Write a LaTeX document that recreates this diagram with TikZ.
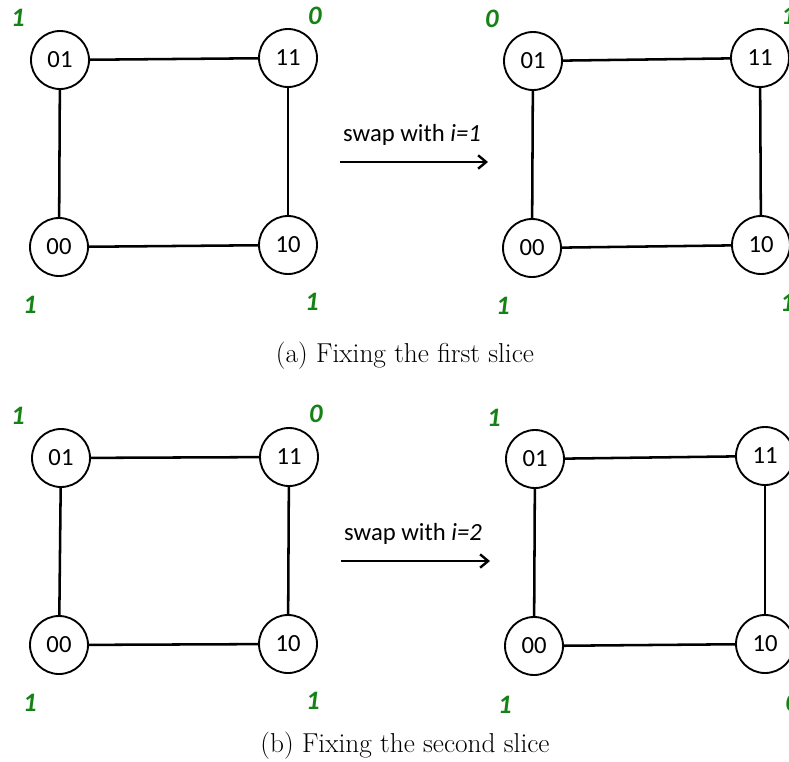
\documentclass[tikz,border=0pt]{standalone}
\usepackage{fontspec}
\newfontfamily\calibri{Carlito}
\usetikzlibrary{arrows.meta}
\definecolor{bitgreen}{RGB}{20,130,20}
\tikzset{
  vertex/.style={circle,draw,line width=1.4pt,minimum size=43.5pt,inner sep=0pt,
    font=\calibri\fontsize{18.5}{20}\selectfont},
  edge/.style={line width=1.9pt},
  bit/.style={text=bitgreen,font=\calibri\bfseries\itshape\fontsize{20}{22}\selectfont},
  swaparrow/.style={line width=1.9pt,-{Straight Barb[length=6pt,width=10pt,line width=1.8pt]}},
  swaplabel/.style={font=\calibri\fontsize{18.5}{20}\selectfont},
  caption/.style={font=\fontsize{20.5}{24}\selectfont}
}
\begin{document}
\begin{tikzpicture}[x=0.75pt,y=-0.75pt]
\useasboundingbox (0,0) rectangle (789,761);
\clip (0,0) rectangle (789,761);

% ---- (a) first slice, before the swap
\node[vertex] (a01) at (60,60) {01};
\node[vertex] (a11) at (288,58) {11};
\node[vertex] (a00) at (59,247) {00};
\node[vertex] (a10) at (288,245) {10};
\draw[edge] (a01) -- (a11);
\draw[edge] (a01) -- (a00);
\draw[edge] (a11) -- (a10);
\draw[edge] (a00) -- (a10);
\node[bit] (ab01) at (18,18) {1};
\node[bit] (ab11) at (315,16) {0};
\node[bit] (ab00) at (30,305) {1};
\node[bit] (ab10) at (312,302) {1};

% swap arrow
\coordinate (asrc) at (340,162);
\coordinate (adst) at (488,162);
\draw[swaparrow] (asrc) -- (adst);
\node[swaplabel] (alab) at (412,135) {swap with \textit{i=1}};

% ---- (a) first slice, after the swap
\node[vertex] (b01) at (533,61) {01};
\node[vertex] (b11) at (760,58) {11};
\node[vertex] (b00) at (532,248) {00};
\node[vertex] (b10) at (761,245) {10};
\draw[edge] (b01) -- (b11);
\draw[edge] (b01) -- (b00);
\draw[edge] (b11) -- (b10);
\draw[edge] (b00) -- (b10);
\node[bit] (bb01) at (492,19) {0};
\node[bit] (bb11) at (788,16) {1};
\node[bit] (bb00) at (503,306) {1};
\node[bit] (bb10) at (787,303) {1};

\node[caption] (capa) at (405,356) {(a) Fixing the first slice};

% ---- (b) second slice, before the swap
\node[vertex] (c01) at (61,458) {01};
\node[vertex] (c11) at (289,457) {11};
\node[vertex] (c00) at (59,645) {00};
\node[vertex] (c10) at (288,644) {10};
\draw[edge] (c01) -- (c11);
\draw[edge] (c01) -- (c00);
\draw[edge] (c11) -- (c10);
\draw[edge] (c00) -- (c10);
\node[bit] (cb01) at (18,416) {1};
\node[bit] (cb11) at (316,414) {0};
\node[bit] (cb00) at (30,703) {1};
\node[bit] (cb10) at (313,701) {1};

% swap arrow
\coordinate (csrc) at (341,561);
\coordinate (cdst) at (490,561);
\draw[swaparrow] (csrc) -- (cdst);
\node[swaplabel] (clab) at (413,534) {swap with \textit{i=2}};

% ---- (b) second slice, after the swap
\node[vertex] (d01) at (535,459) {01};
\node[vertex] (d11) at (765,456) {11};
\node[vertex] (d00) at (534,646) {00};
\node[vertex] (d10) at (765,644) {10};
\draw[edge] (d01) -- (d11);
\draw[edge] (d01) -- (d00);
\draw[edge] (d11) -- (d10);
\draw[edge] (d00) -- (d10);
\node[bit] (db01) at (494,418) {1};
\node[bit] (db11) at (793,415) {1};
\node[bit] (db00) at (505,705) {1};
\node[bit] (db10) at (792,703) {0};

\node[caption] (capb) at (405,746) {(b) Fixing the second slice};
\end{tikzpicture}
\end{document}
